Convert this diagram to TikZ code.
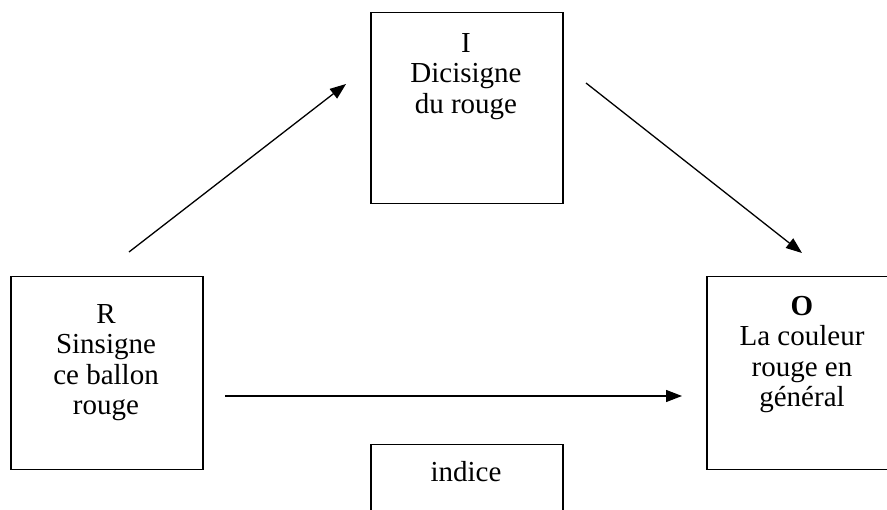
\documentclass[tikz,border=0pt]{standalone}
\usepackage{fontspec}
\setmainfont{Liberation Serif}
\usetikzlibrary{arrows.meta}
\begin{document}
\begin{tikzpicture}[x=1pt,y=-1pt,
  boxnode/.style={draw=black,line width=1.5pt,minimum width=192pt,minimum height=193pt,inner sep=0pt,anchor=north west},
  txt/.style={inner sep=0pt,align=center,anchor=north,font=\fontsize{29}{30.5}\selectfont},
  arr/.style={line width=1.3pt,-{Triangle[length=16pt,width=12pt]}}]
\useasboundingbox (0,0) rectangle (887,510);
\clip (0,0) rectangle (887,510);
\node[boxnode] (Rbox) at (10,276) {};
\node[boxnode,minimum height=191pt] (Ibox) at (370,12) {};
\node[boxnode] (Obox) at (706,276) {};
\node[boxnode,minimum height=200pt] (Xbox) at (370,444) {};
\node[txt] (Rtxt) at (106,304) {R\\Sinsigne\\ce ballon\\rouge};
\node[txt] (Itxt) at (466,33) {I\\Dicisigne\\du rouge};
\node[txt] (Otxt) at (802,296) {\textbf{O}\\La couleur\\rouge en\\général};
\node[txt,anchor=base] (Xtxt) at (466,482) {indice};
\coordinate (a1s) at (129,252);
\coordinate (a1e) at (346,84);
\coordinate (a2s) at (586,83);
\coordinate (a2e) at (802,253);
\coordinate (a3s) at (225,396);
\coordinate (a3e) at (682,396);
\draw[arr] (a1s) -- (a1e);
\draw[arr] (a2s) -- (a2e);
\draw[arr] (a3s) -- (a3e);
\end{tikzpicture}
\end{document}
